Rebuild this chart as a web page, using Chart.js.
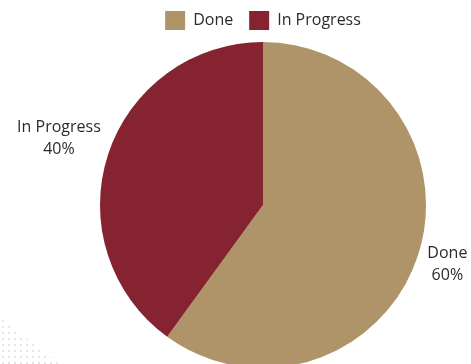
<!DOCTYPE html>
<html>
<head>
<meta charset="utf-8">
<script src="https://cdn.jsdelivr.net/npm/chart.js@4"></script>
<style>
  html, body { margin: 0; padding: 0; background: #fff; overflow: hidden; }
  .wrap { position: relative; width: 471px; height: 364px; overflow: hidden; }
  .box { position: absolute; left: 0; top: 0; width: 471px; height: 380px; }
  .dots {
    position: absolute; left: 0; bottom: 0; width: 60px; height: 46px;
    background-image: radial-gradient(circle, #e6e6e6 1px, transparent 1.3px);
    background-size: 6px 6px;
    clip-path: polygon(0 0, 100% 100%, 0 100%);
  }
</style>
</head>
<body>
<div class="wrap">
  <div class="dots"></div>
  <div class="box"><canvas id="myChart"></canvas></div>
</div>
<script>
const categories = ['Done', 'In Progress'];
const values = [60, 40];
const colors = ['#ae9468', '#862331'];

// draws "name\nNN%" outside each slice
const outsideLabels = {
    id: 'outsideLabels',
    afterDatasetsDraw(chart) {
        const ctx = chart.ctx;
        const meta = chart.getDatasetMeta(0);
        const total = values.reduce((a, b) => a + b, 0);
        ctx.save();
        ctx.font = '16px "Open Sans"';
        ctx.fillStyle = '#2b2b2b';
        ctx.textAlign = 'center';
        ctx.textBaseline = 'middle';
        const lineH = 22;
        meta.data.forEach((arc, i) => {
            const p = arc.getProps(['x', 'y', 'startAngle', 'endAngle', 'outerRadius'], true);
            const mid = (p.startAngle + p.endAngle) / 2;
            const dx = Math.cos(mid), dy = Math.sin(mid);
            const lines = [categories[i], Math.round(values[i] / total * 100) + '%'];
            const w = Math.max(...lines.map(t => ctx.measureText(t).width));
            const h = lineH * lines.length;
            const d = p.outerRadius + 5 + Math.abs(dx) * w / 2 + Math.abs(dy) * h / 2;
            const cx = p.x + dx * d;
            const cy = p.y + dy * d;
            lines.forEach((t, j) => {
                ctx.fillText(t, cx, cy - h / 2 + lineH * (j + 0.5));
            });
        });
        ctx.restore();
    }
};

const ctx = document.getElementById('myChart').getContext('2d');
const chart = new Chart(ctx, {
    type: 'pie',
    data: {
        labels: categories,
        datasets: [{
            data: values,
            backgroundColor: colors,
            borderWidth: 0
        }]
    },
    options: {
        responsive: true,
        maintainAspectRatio: false,
        animation: false,
        layout: {
            padding: { left: 100, right: 45, top: -5, bottom: 10 }
        },
        plugins: {
            legend: {
                position: 'top',
                labels: {
                    font: { family: 'Open Sans', size: 16 },
                    color: '#2b2b2b',
                    boxWidth: 20,
                    boxHeight: 19,
                    padding: 16
                }
            },
            tooltip: { enabled: false }
        }
    },
    plugins: [outsideLabels]
});
</script>
</body>
</html>
